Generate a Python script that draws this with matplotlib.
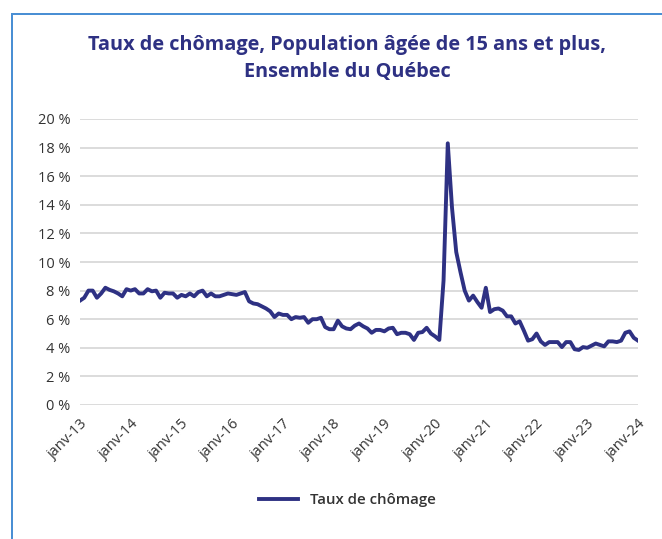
import numpy as np
import matplotlib
matplotlib.use("Agg")
import matplotlib.pyplot as plt
from matplotlib.patches import Rectangle

# taux de chomage mensuel, janv-13 a janv-24 (en %)
taux_2013 = [7.3, 7.5, 8.0, 8.0, 7.5, 7.8, 8.2, 8.05, 7.95, 7.8, 7.6, 8.1]
taux_2014 = [8.0, 8.1, 7.8, 7.8, 8.1, 7.95, 8.0, 7.5, 7.85, 7.8, 7.8, 7.5]
taux_2015 = [7.7, 7.6, 7.8, 7.6, 7.9, 8.0, 7.6, 7.8, 7.6, 7.6, 7.7, 7.8]
taux_2016 = [7.75, 7.7, 7.8, 7.9, 7.25, 7.1, 7.05, 6.9, 6.75, 6.55, 6.15, 6.4]
taux_2017 = [6.3, 6.3, 6.0, 6.15, 6.1, 6.15, 5.75, 6.0, 6.0, 6.1, 5.45, 5.3]
taux_2018 = [5.3, 5.9, 5.5, 5.35, 5.3, 5.55, 5.7, 5.5, 5.35, 5.05, 5.25, 5.25]
taux_2019 = [5.15, 5.35, 5.4, 4.95, 5.05, 5.05, 4.95, 4.55, 5.05, 5.1, 5.4, 5.0]
taux_2020 = [4.8, 4.55, 8.7, 18.3, 13.8, 10.7, 9.3, 8.0, 7.3, 7.65, 7.2, 6.8]
taux_2021 = [8.2, 6.5, 6.7, 6.75, 6.6, 6.2, 6.2, 5.7, 5.85, 5.2, 4.5, 4.6]
taux_2022 = [5.0, 4.45, 4.2, 4.4, 4.4, 4.4, 4.05, 4.4, 4.4, 3.9, 3.85, 4.05]
taux_2023 = [4.0, 4.15, 4.3, 4.2, 4.1, 4.45, 4.45, 4.4, 4.5, 5.05, 5.15, 4.7]
taux_2024 = [4.5]

taux = (taux_2013 + taux_2014 + taux_2015 + taux_2016 + taux_2017 + taux_2018
        + taux_2019 + taux_2020 + taux_2021 + taux_2022 + taux_2023 + taux_2024)
annees = ["13", "14", "15", "16", "17", "18", "19", "20", "21", "22", "23", "24"]
etiquettes = ["janv-" + a for a in annees]

bleu = "#2e3183"
gris_texte = "#333333"

plt.rcParams['font.family'] = ['Open Sans', 'DejaVu Sans']

W, H = 662, 539
fig = plt.figure(figsize=(W / 100, H / 100), dpi=100)

# cadre bleu (gauche et haut)
fig.patches.append(Rectangle((10.5 / W, -0.1), 2 / W, (H - 13) / H + 0.1,
                             transform=fig.transFigure, color="#4a8fd4", lw=0))
fig.patches.append(Rectangle((10.5 / W, (H - 15) / H), 1.0, 2 / H,
                             transform=fig.transFigure, color="#4a8fd4", lw=0))

ax = fig.add_axes([80 / W, (H - 405) / H, 558 / W, 286 / H])
x = np.arange(len(taux))
ax.plot(x, taux, color=bleu, lw=2.8, solid_joinstyle="round", label="Taux de chômage")

ax.set_xlim(0, len(taux) - 1)
ax.set_ylim(0, 20)
ax.set_yticks(np.arange(0, 21, 2))
ax.set_yticklabels([f"{v} %" for v in range(0, 21, 2)])
ax.set_xticks(np.arange(0, len(taux), 12))
ax.set_xticklabels(etiquettes, rotation=45, ha="right", rotation_mode="anchor")

ax.grid(axis="y", color="#d9d9d9", lw=1.3)
ax.set_axisbelow(True)
for s in ax.spines.values():
    s.set_visible(False)
ax.tick_params(axis="both", length=0, colors=gris_texte, labelsize=10.5)
ax.tick_params(axis="y", pad=7)
ax.tick_params(axis="x", pad=8)
for t in ax.get_xticklabels():
    t.set_fontweight("medium")

fig.text(347 / W, 1 - 45 / H, "Taux de chômage, Population âgée de 15 ans et plus,",
         ha="center", va="center", fontsize=14.3, fontweight="bold", color=bleu)
fig.text(347 / W, 1 - 72 / H, "Ensemble du Québec",
         ha="center", va="center", fontsize=14.3, fontweight="bold", color=bleu)

leg = fig.legend(loc="center", bbox_to_anchor=(347 / W, 1 - 500 / H), frameon=False,
                 fontsize=10.8, handlelength=2.6, labelcolor=gris_texte)
for t in leg.get_texts():
    t.set_fontweight("semibold")

fig.savefig("out.png", dpi=100)
